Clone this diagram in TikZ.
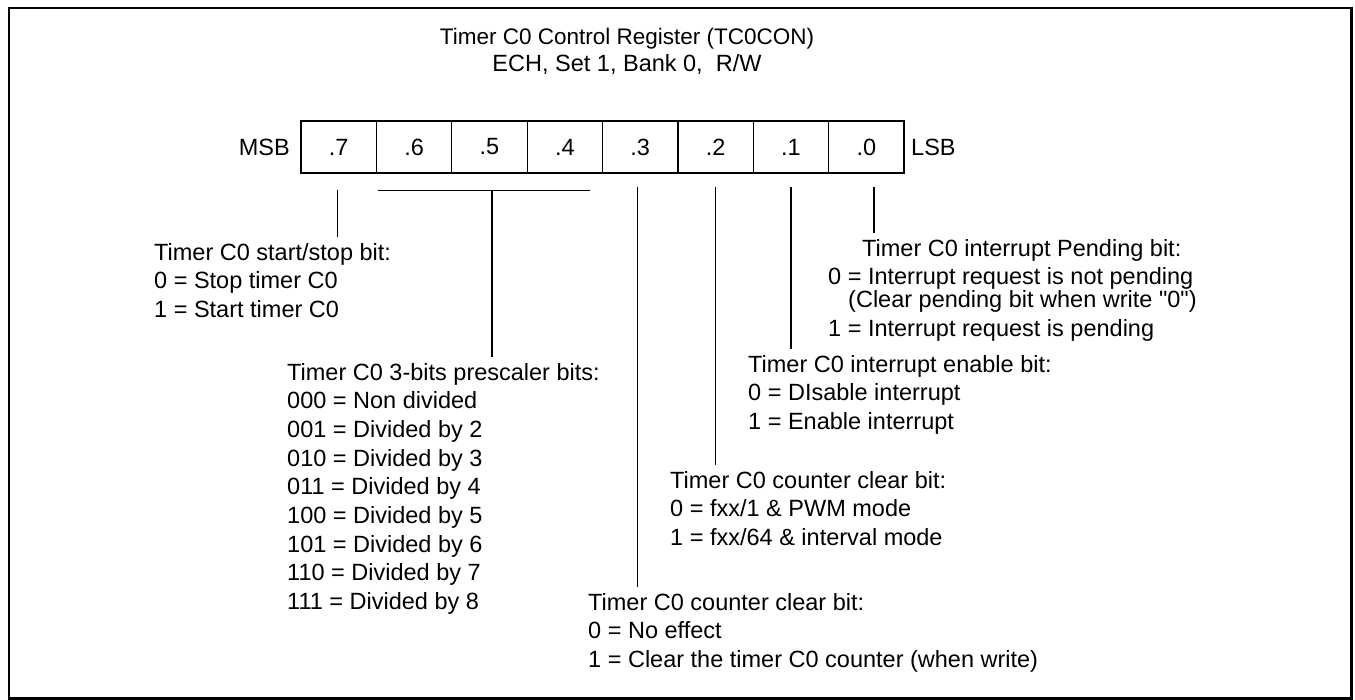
\documentclass[tikz,border=0pt]{standalone}
\usepackage{fontspec}
\setmainfont{Liberation Sans}[Ligatures=TeXOff]
\begin{document}
\begin{tikzpicture}[x=1pt,y=-1pt,
  txt/.style={font=\fontsize{23.5}{28.7}\selectfont, inner sep=0pt},
  blk/.style={txt, anchor=north west, align=left, outer ysep=6pt},
  cell/.style={draw, line width=1.2pt, minimum width=75.4pt, minimum height=52pt, inner sep=0pt, font=\fontsize{23.5}{28.7}\selectfont},
  wire/.style={line width=1.3pt},
  frame/.style={line width=2.3pt}]
\useasboundingbox (0,0) rectangle (1355,700);
\draw[frame] (9,8) rectangle (1351.5,698.5);

\node[txt, anchor=base, font=\fontsize{22.5}{27}\selectfont] (title) at (627,45) {Timer C0 Control Register (TC0CON)};
\node[txt, anchor=base] (sub) at (627,72) {ECH, Set 1, Bank 0,\ \ R/W};

\node[cell] (b7) at (338.7,147) {.7};
\node[cell] (b6) at (414.1,147) {.6};
\node[cell] (b5) at (489.4,147) {.5};
\node[cell] (b4) at (564.8,147) {.4};
\node[cell] (b3) at (640.2,147) {.3};
\node[cell] (b2) at (715.6,147) {.2};
\node[cell] (b1) at (790.9,147) {.1};
\node[cell] (b0) at (866.3,147) {.0};
\node[txt, anchor=east] (msb) at (290,147) {MSB};
\node[txt, anchor=west] (lsb) at (911,147) {LSB};

\node[blk] (t7) at (154,237) {Timer C0 start/stop bit:\\0 = Stop timer C0\\1 = Start timer C0};
\node[blk] (t654) at (287,357) {Timer C0 3-bits prescaler bits:\\000 = Non divided\\001 = Divided by 2\\010 = Divided by 3\\011 = Divided by 4\\100 = Divided by 5\\101 = Divided by 6\\110 = Divided by 7\\111 = Divided by 8};
\node[blk] (t3) at (588,587) {Timer C0 counter clear bit:\\0 = No effect\\1 = Clear the timer C0 counter (when write)};
\node[blk] (t2) at (670,465) {Timer C0 counter clear bit:\\0 = fxx/1 \& PWM mode\\1 = fxx/64 \& interval mode};
\node[blk] (t1) at (748,349) {Timer C0 interrupt enable bit:\\0 = DIsable interrupt\\1 = Enable interrupt};
\node[blk] (t0) at (828,233) {\hspace*{34pt}Timer C0 interrupt Pending bit:\\0 = Interrupt request is not pending\\[-6pt]\hspace*{20pt}(Clear pending bit when write "0")\\1 = Interrupt request is pending};

\coordinate (s7) at ([xshift=-1.5pt,yshift=-16pt]b7.south);
\draw[wire] (s7) -- (s7 |- t7.north);
\coordinate (pl) at ([xshift=2pt,yshift=-17pt]b6.south west);
\coordinate (pr) at ([xshift=-13pt,yshift=-17pt]b4.south east);
\coordinate (pm) at ([xshift=2.5pt,yshift=-17pt]b5.south);
\draw[wire] (pl) -- (pr);
\draw[wire] (pm) -- (pm |- t654.north);
\coordinate (s3) at ([xshift=-3pt,yshift=-13pt]b3.south);
\draw[wire] (s3) -- (s3 |- t3.north);
\coordinate (s2) at ([yshift=-13pt]b2.south);
\draw[wire] (s2) -- (s2 |- t2.north);
\coordinate (s1) at ([yshift=-13pt]b1.south);
\draw[wire] (s1) -- (s1 |- t1.north);
\coordinate (s0) at ([xshift=7.7pt,yshift=-13pt]b0.south);
\draw[wire] (s0) -- (s0 |- t0.north);
\end{tikzpicture}
\end{document}
